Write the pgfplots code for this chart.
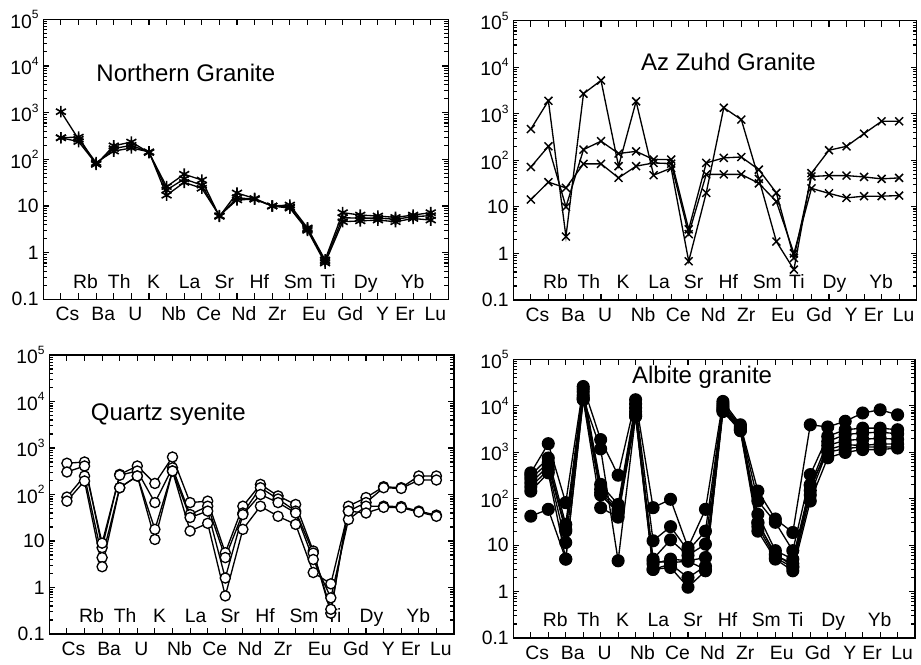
\documentclass[border=0pt]{standalone}
\usepackage{pgfplots}
\pgfplotsset{compat=1.18}
\usepackage{fontspec}
\setmainfont{Liberation Sans}
\newcommand\sups[1]{10\raisebox{7pt}{\fontsize{9}{9}\selectfont #1}}
\tikzset{
  lab/.style={anchor=base, font=\fontsize{14.5}{14.5}\selectfont, inner sep=0pt},
  labb/.style={lab, yshift=-15.8pt},
  labt/.style={lab, yshift=8.5pt},
  ttl/.style={anchor=base west, font=\fontsize{18}{20}\selectfont, inner sep=0pt},
}
\newcommand\elabels{%
  \node[labb] at (axis cs:0.37,0.1) {Cs};
  \node[labb] at (axis cs:2.40,0.1) {Ba};
  \node[labb] at (axis cs:4.23,0.1) {U};
  \node[labb] at (axis cs:6.40,0.1) {Nb};
  \node[labb] at (axis cs:8.40,0.1) {Ce};
  \node[labb] at (axis cs:10.40,0.1) {Nd};
  \node[labb] at (axis cs:12.28,0.1) {Zr};
  \node[labb] at (axis cs:14.37,0.1) {Eu};
  \node[labb] at (axis cs:16.43,0.1) {Gd};
  \node[labb] at (axis cs:18.26,0.1) {Y};
  \node[labb] at (axis cs:19.54,0.1) {Er};
  \node[labb] at (axis cs:21.26,0.1) {Lu};
  \node[labt] at (axis cs:1.40,0.1) {Rb};
  \node[labt] at (axis cs:3.31,0.1) {Th};
  \node[labt] at (axis cs:5.26,0.1) {K};
  \node[labt] at (axis cs:7.31,0.1) {La};
  \node[labt] at (axis cs:9.28,0.1) {Sr};
  \node[labt] at (axis cs:11.26,0.1) {Hf};
  \node[labt] at (axis cs:13.48,0.1) {Sm};
  \node[labt] at (axis cs:15.17,0.1) {Ti};
  \node[labt] at (axis cs:17.31,0.1) {Dy};
  \node[labt] at (axis cs:19.97,0.1) {Yb};
}
\pgfplotsset{
  every axis/.append style={
    scale only axis, clip=false, axis line style={line width=1.1pt},
    tick align=inside, major tick length=4.5pt, minor tick length=3pt,
    tick style={black, line width=0.8pt},
    yticklabel style={font=\fontsize{14.5}{14.5}\selectfont},
  },
  pA/.style={black, line width=1pt, mark=asterisk, mark size=4.3pt, mark options={solid, line width=1.2pt}},
  pB/.style={black, line width=1pt, mark=x, mark size=4.2pt, mark options={solid, line width=1.1pt}},
  pC/.style={black, line width=1pt, mark=*, mark size=3.8pt, mark options={solid, fill=white, line width=1pt}},
  pD/.style={black, line width=1pt, mark=*, mark size=4.4pt, mark options={solid, fill=black}},
}
\begin{document}
\begin{tikzpicture}
\path[use as bounding box] (0,0) rectangle (690.75pt,-498pt);
% Panel 1
\begin{semilogyaxis}[at={(32.5pt,-224.5pt)}, anchor=south west, width=303.75pt, height=210pt,
    ymin=0.1, ymax=100000, xmin=-1, xmax=22,
    xtick={0,...,21}, xticklabels={},
    ytick={0.1,1,10,100,1000,10000,100000},
    yticklabels={0.1,1,10,\sups{2},\sups{3},\sups{4},\sups{5}},
    minor ytick={0.2,0.3,0.4,0.5,0.6,0.7,0.8,0.9,2,3,4,5,6,7,8,9,20,30,40,50,60,70,80,90,200,300,400,500,600,700,800,900,2000,3000,4000,5000,6000,7000,8000,9000,20000,30000,40000,50000,60000,70000,80000,90000}]
\addplot[pA] coordinates {(0,1050)(1,270)(2,85)(3,150)(4,175)(5,145)(6,17)(7,32)(8,24)(9,6.2)(10,13.5)(11,14)(12,10)(13,9)(14,3.0)(15,0.6)(16,4.6)(17,4.8)(18,5.0)(19,4.6)(20,5.4)(21,5.0)};
\addplot[pA] coordinates {(0,290)(1,300)(2,78)(3,195)(4,235)(5,140)(6,26)(7,48)(8,36)(9,6.0)(10,19)(11,14.5)(12,10)(13,10.5)(14,3.4)(15,0.7)(16,7.2)(17,6.4)(18,6.1)(19,5.7)(20,6.4)(21,7.2)};
\addplot[pA] coordinates {(0,290)(1,240)(2,80)(3,170)(4,200)(5,142)(6,22)(7,38)(8,28)(9,6.1)(10,15)(11,14)(12,10)(13,9.5)(14,3.2)(15,0.65)(16,5.6)(17,5.5)(18,5.5)(19,5.2)(20,5.9)(21,6.2)};
\elabels
\node[ttl] at (axis cs:2.0,4570) {Northern Granite};
\end{semilogyaxis}
% Panel 2
\begin{semilogyaxis}[at={(385pt,-225pt)}, anchor=south west, width=302.5pt, height=209.5pt,
    ymin=0.1, ymax=100000, xmin=-1, xmax=22,
    xtick={0,...,21}, xticklabels={},
    ytick={0.1,1,10,100,1000,10000,100000},
    yticklabels={0.1,1,10,\sups{2},\sups{3},\sups{4},\sups{5}},
    minor ytick={0.2,0.3,0.4,0.5,0.6,0.7,0.8,0.9,2,3,4,5,6,7,8,9,20,30,40,50,60,70,80,90,200,300,400,500,600,700,800,900,2000,3000,4000,5000,6000,7000,8000,9000,20000,30000,40000,50000,60000,70000,80000,90000}]
\addplot[pB] coordinates {(0,470)(1,1900)(2,2.3)(3,2700)(4,5200)(5,75)(6,1850)(7,48)(8,68)(9,0.68)(10,20)(11,1350)(12,750)(13,40)(14,1.8)(15,0.45)(16,53)(17,165)(18,200)(19,375)(20,690)(21,690)};
\addplot[pB] coordinates {(0,72)(1,200)(2,10)(3,170)(4,258)(5,140)(6,156)(7,104)(8,104)(9,3.3)(10,88)(11,113)(12,118)(13,63)(14,20)(15,0.8)(16,45)(17,47)(18,47)(19,44)(20,40)(21,42)};
\addplot[pB] coordinates {(0,14.4)(1,34)(2,25.6)(3,84)(4,84)(5,42)(6,75)(7,88)(8,85)(9,2.6)(10,50)(11,50)(12,50)(13,32)(14,13)(15,1.0)(16,25)(17,19.5)(18,15.6)(19,17)(20,17)(21,17.5)};
\elabels
\node[ttl] at (axis cs:6.27,8500) {Az Zuhd Granite};
\end{semilogyaxis}
% Panel 3
\begin{semilogyaxis}[at={(37pt,-475.5pt)}, anchor=south west, width=303.5pt, height=209.25pt,
    ymin=0.1, ymax=100000, xmin=-1, xmax=22,
    xtick={0,...,21}, xticklabels={},
    ytick={0.1,1,10,100,1000,10000,100000},
    yticklabels={0.1,1,10,\sups{2},\sups{3},\sups{4},\sups{5}},
    minor ytick={0.2,0.3,0.4,0.5,0.6,0.7,0.8,0.9,2,3,4,5,6,7,8,9,20,30,40,50,60,70,80,90,200,300,400,500,600,700,800,900,2000,3000,4000,5000,6000,7000,8000,9000,20000,30000,40000,50000,60000,70000,80000,90000}]
\addplot[pC] coordinates {(0,470)(1,500)(2,7.2)(3,270)(4,410)(5,173)(6,640)(7,67)(8,72)(9,5.6)(10,56)(11,165)(12,93)(13,61)(14,6.1)(15,0.28)(16,56)(17,86)(18,147)(19,140)(20,250)(21,250)};
\addplot[pC] coordinates {(0,305)(1,410)(2,9)(3,260)(4,320)(5,67)(6,375)(7,37)(8,56)(9,4.4)(10,40)(11,140)(12,80)(13,44)(14,5.5)(15,0.34)(16,44)(17,67)(18,140)(19,135)(20,205)(21,205)};
\addplot[pC] coordinates {(0,88)(1,250)(2,4.4)(3,140)(4,250)(5,17.8)(6,320)(7,32)(8,44)(9,1.6)(10,37)(11,100)(12,67)(13,40)(14,4.0)(15,0.6)(16,29)(17,56)(18,56)(19,55)(20,44)(21,36)};
\addplot[pC] coordinates {(0,72)(1,195)(2,2.8)(3,140)(4,250)(5,10.8)(6,320)(7,16.4)(8,24)(9,0.66)(10,17.8)(11,56)(12,34)(13,22.8)(14,2.1)(15,1.2)(16,44)(17,40)(18,53)(19,52)(20,42)(21,34)};
\elabels
\node[ttl] at (axis cs:1.35,3900) {Quartz syenite};
\end{semilogyaxis}
% Panel 4
\begin{semilogyaxis}[at={(385pt,-478.5pt)}, anchor=south west, width=301.3pt, height=209pt,
    ymin=0.1, ymax=100000, xmin=-1, xmax=22,
    xtick={0,...,21}, xticklabels={},
    ytick={0.1,1,10,100,1000,10000,100000},
    yticklabels={0.1,1,10,\sups{2},\sups{3},\sups{4},\sups{5}},
    minor ytick={0.2,0.3,0.4,0.5,0.6,0.7,0.8,0.9,2,3,4,5,6,7,8,9,20,30,40,50,60,70,80,90,200,300,400,500,600,700,800,900,2000,3000,4000,5000,6000,7000,8000,9000,20000,30000,40000,50000,60000,70000,80000,90000}]
\addplot[pD] coordinates {(0,360)(1,1530)(2,82)(3,26000)(4,1870)(5,320)(6,13500)(7,64)(8,97)(9,8.9)(10,59)(11,12400)(12,3900)(13,146)(14,36.5)(15,18.7)(16,3900)(17,3500)(18,4640)(19,7000)(20,8200)(21,6400)};
\addplot[pD] coordinates {(0,320)(1,750)(2,28)(3,23000)(4,203)(5,75)(6,11000)(7,12.4)(8,25)(9,7.6)(10,20)(11,11000)(12,3600)(13,89)(14,31)(15,7.6)(16,330)(17,2200)(18,3050)(19,3300)(20,3300)(21,3050)};
\addplot[pD] coordinates {(0,270)(1,600)(2,22)(3,20000)(4,160)(5,60)(6,9000)(7,5.0)(8,13)(9,6.0)(10,10.5)(11,10000)(12,3400)(13,46)(14,7.6)(15,5.0)(16,193)(17,1700)(18,2400)(19,2600)(20,2700)(21,2500)};
\addplot[pD] coordinates {(0,220)(1,500)(2,20)(3,17000)(4,135)(5,55)(6,7500)(7,3.9)(8,5.0)(9,4.6)(10,5.4)(11,9000)(12,3200)(13,31)(14,6.0)(15,4.0)(16,150)(17,1400)(18,1800)(19,1900)(20,2000)(21,1900)};
\addplot[pD] coordinates {(0,180)(1,420)(2,11.4)(3,15000)(4,120)(5,50)(6,6500)(7,3.0)(8,3.9)(9,2.0)(10,3.5)(11,8000)(12,3000)(13,25)(14,5.4)(15,3.3)(16,120)(17,1140)(18,1450)(19,1400)(20,1500)(21,1500)};
\addplot[pD] coordinates {(0,145)(1,360)(2,5.0)(3,13500)(4,64)(5,40)(6,5900)(7,3.0)(8,3.3)(9,1.24)(10,2.8)(11,7500)(12,2900)(13,20)(14,5.0)(15,2.8)(16,89)(17,760)(18,990)(19,1140)(20,1140)(21,1230)};
\addplot[pD] coordinates {(0,42)(1,59)(2,5.0)(3,14000)(4,1180)(5,4.6)(6,6000)(7,4.5)(8,4.2)(9,4.5)(10,3.0)(11,8500)(12,3100)(13,30)(14,6.5)(15,3.5)(16,200)(17,1000)(18,1200)(19,1300)(20,1300)(21,1300)};
\elabels
\node[ttl] at (axis cs:5.78,30900) {Albite granite};
\end{semilogyaxis}
\end{tikzpicture}
\end{document}
